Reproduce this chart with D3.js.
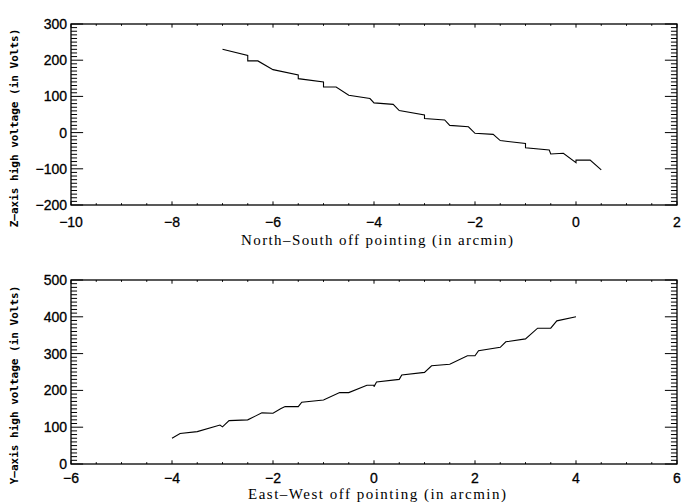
<!DOCTYPE html>
<html><head><meta charset="utf-8">
<script src="https://cdn.jsdelivr.net/npm/d3@7"></script>
<style>body{margin:0;background:#fff}svg{display:block}</style>
</head><body>
<svg id="c" width="683" height="504"></svg>
<script>
// Top panel: North-South offset vs Z-axis HV
const nsOffset = [-7.0,-6.5,-6.5,-6.3,-6.0,-5.5,-5.5,-5.0,-5.0,-4.75,-4.5,-4.08,-4.0,-3.62,-3.5,-3.0,-3.0,-2.6,-2.5,-2.13,-2.0,-1.64,-1.5,-1.0,-1.0,-0.53,-0.5,-0.25,0.0,0.0,0.28,0.5];
const zVoltage = [230,213,198,198,174,159,149,140,126,126,103,94,82,78,61,49,39,35,20,16,-2,-5,-22,-30,-42,-48,-59,-57,-83,-76,-76,-103];
// Bottom panel: East-West offset vs Y-axis HV
const ewOffset = [-4.0,-3.84,-3.5,-3.05,-3.0,-2.87,-2.5,-2.22,-2.0,-1.85,-1.76,-1.5,-1.43,-1.0,-0.68,-0.5,-0.14,0.0,0.0,0.05,0.5,0.55,1.0,1.14,1.5,1.85,2.0,2.07,2.5,2.61,3.0,3.24,3.5,3.62,4.0];
const yVoltage = [70,83,88,106,101,118,120,139,138,150,156,156,168,174,194,194,214,214,210,223,230,242,249,267,271,294,294,308,317,332,340,369,369,389,400];

const topXTicks = [-10,-8,-6,-4,-2,0,2];
const topYTicks = [-200,-100,0,100,200,300];
const botXTicks = [-6,-4,-2,0,2,4,6];
const botYTicks = [0,100,200,300,400,500];

const titles = {
  topX: "North\u2013South off pointing (in arcmin)",
  topY: "Z\u2013axis high voltage (in Volts)",
  botX: "East\u2013West off pointing (in arcmin)",
  botY: "Y\u2013axis high voltage (in Volts)"
};

const svg = d3.select("#c");
const L = 71, R = 677;

function panel(cfg){
  const x = d3.scaleLinear().domain(cfg.xd).range([L,R]);
  const y = d3.scaleLinear().domain(cfg.yd).range([cfg.bottom,cfg.top]);
  const g = svg.append("g");
  const H = cfg.bottom - cfg.top, W = R - L;
  const xMajLen = 0.02*H, yMajLen = 0.02*W;
  const xMinor = d3.range(cfg.xd[0], cfg.xd[1]+1e-9, 0.5);
  const yMinor = d3.range(cfg.yd[0], cfg.yd[1]+1e-9, 10);
  const tickG = g.append("g").attr("stroke","#000").attr("stroke-width",1);
  xMinor.forEach(v=>{
    const isMaj = cfg.xt.includes(Math.round(v*100)/100);
    const len = isMaj ? xMajLen : xMajLen/2;
    tickG.append("line").attr("x1",x(v)).attr("x2",x(v)).attr("y1",cfg.bottom).attr("y2",cfg.bottom-len);
    tickG.append("line").attr("x1",x(v)).attr("x2",x(v)).attr("y1",cfg.top).attr("y2",cfg.top+len);
  });
  yMinor.forEach(v=>{
    const isMaj = cfg.yt.includes(Math.round(v));
    const len = isMaj ? yMajLen : yMajLen/2;
    tickG.append("line").attr("x1",L).attr("x2",L+len).attr("y1",y(v)).attr("y2",y(v));
    tickG.append("line").attr("x1",R).attr("x2",R-len).attr("y1",y(v)).attr("y2",y(v));
  });
  g.append("rect").attr("x",L).attr("y",cfg.top).attr("width",W).attr("height",H)
    .attr("fill","none").attr("stroke","#000").attr("stroke-width",1.3);
  const fmt = v => (v<0 ? "\u2212"+Math.abs(v) : ""+v);
  g.selectAll(".xl").data(cfg.xt).enter().append("text")
    .attr("x",d=>x(d)).attr("y",cfg.bottom+cfg.xlOff).attr("text-anchor","middle")
    .attr("font-family","Liberation Sans, Arial, sans-serif").attr("font-size",14)
    .attr("stroke","#000").attr("stroke-width",0.3)
    .text(fmt);
  g.selectAll(".yl").data(cfg.yt).enter().append("text")
    .attr("x",L-4).attr("y",d=>y(d)+5).attr("text-anchor","end")
    .attr("font-family","Liberation Sans, Arial, sans-serif").attr("font-size",14)
    .attr("stroke","#000").attr("stroke-width",0.3)
    .text(fmt);
  g.append("text").attr("x",(L+R)/2+3).attr("y",cfg.bottom+cfg.xtOff).attr("text-anchor","middle")
    .attr("font-family","Liberation Serif, serif").attr("font-size",15)
    .attr("textLength",cfg.xtLen).attr("lengthAdjust","spacing")
    .text(cfg.xTitle);
  g.append("text").attr("transform",`translate(18,${cfg.yTitleC}) rotate(-90)`)
    .attr("text-anchor","middle")
    .attr("font-family","DejaVu Sans Mono, monospace").attr("font-weight","bold").attr("font-size",11)
    .text(cfg.yTitle);
  const pts = cfg.xs.map((v,i)=>[v,cfg.ys[i]]);
  g.append("path").datum(pts)
    .attr("d", d3.line().x(d=>x(d[0])).y(d=>y(d[1])))
    .attr("fill","none").attr("stroke","#000").attr("stroke-width",1.1);
}

panel({xd:[-10,2], yd:[-200,300], top:24, bottom:205, xt:topXTicks, yt:topYTicks,
  xs:nsOffset, ys:zVoltage, xTitle:titles.topX, yTitle:titles.topY, yTitleC:128,
  xlOff:22, xtOff:40, xtLen:272});
panel({xd:[-6,6], yd:[0,500], top:280, bottom:464, xt:botXTicks, yt:botYTicks,
  xs:ewOffset, ys:yVoltage, xTitle:titles.botX, yTitle:titles.botY, yTitleC:385,
  xlOff:19, xtOff:35, xtLen:258});
</script>
</body></html>
